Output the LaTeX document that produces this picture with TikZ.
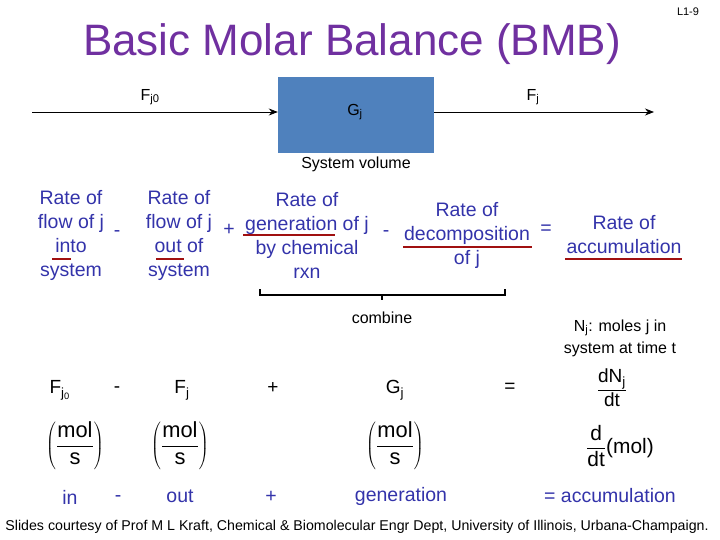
\documentclass[tikz,border=0pt]{standalone}
\usepackage{fontspec}
\setmainfont{Liberation Sans}
\usetikzlibrary{arrows.meta}
\definecolor{ttl}{RGB}{112,48,160}
\definecolor{bl}{RGB}{51,51,170}
\definecolor{boxc}{RGB}{79,129,189}
\definecolor{rd}{RGB}{160,16,16}
\begin{document}
\begin{tikzpicture}[x=1pt,y=-1pt,
  bt/.style={text=bl,font=\fontsize{19.5}{24}\selectfont,align=center,inner sep=0},
  kt/.style={text=black,font=\fontsize{16}{22}\selectfont,align=center,inner sep=0},
  eq/.style={text=black,font=\fontsize{19}{22}\selectfont,inner sep=0},
  ul/.style={rd,line width=2.2pt},
  flow/.style={-{Stealth[length=9pt,width=7pt]},line width=0.8pt}]
\useasboundingbox (0,0) rectangle (720,540);
\node[text=ttl,font=\fontsize{44}{46}\selectfont] (title) at (352,44) {Basic Molar Balance (BMB)};
\node[font=\fontsize{11}{12}\selectfont] (pg) at (688,12) {L1-9};
\node[fill=boxc,minimum width=156pt,minimum height=76pt,inner sep=0] (box) at (356,115) {};
\coordinate (in0) at (32,112);
\coordinate (out0) at (654,112);
\draw[flow] (in0) -- (box.west|-in0);
\draw[flow] (box.east|-out0) -- (out0);
\node[kt] (fj0) at (150,97) {F\textsubscript{j0}};
\node[kt] (fj) at (533,97) {F\textsubscript{j}};
\node[kt] (gj) at (355,112) {G\textsubscript{j}};
\node[kt] (sv) at (356,164) {System volume};
\node[bt] (c1) at (71,235) {Rate of\\flow of j\\into\\system};
\node[bt] (c2) at (179,235) {Rate of\\flow of j\\out of\\system};
\node[bt] (c3) at (307,235) {Rate of\\generation of j\\by chemical\\rxn};
\node[bt] (c4) at (467,235) {Rate of\\decomposition\\of j};
\node[bt] (c5) at (624,235) {Rate of\\accumulation};
\node[bt] (o1) at (117,234) {-};
\node[bt] (o2) at (229,230) {+};
\node[bt] (o3) at (386,234) {-};
\node[bt] (o4) at (546,230) {=};
\draw[ul] (52,259) -- (71,259);
\draw[ul] (156,259) -- (184,259);
\draw[ul] (243,235) -- (335,235);
\draw[ul] (403,247) -- (532,247);
\draw[ul] (565,259) -- (682,259);
\coordinate (bl) at (260,289); \coordinate (br) at (505,289);
\draw[line width=1.6pt] (bl) -- ++(0,6) -- (382,295) -- ++(0,5) (382,295) -- (505,295) -- (br);
\node[kt] (comb) at (382,318) {combine};
\node[kt] (nj) at (620,338) {N\textsubscript{j}: moles j in\\system at time t};
\node[eq] (e1) at (60,390) {F\textsubscript{j\textsubscript{0}}};
\node[eq] (e2) at (117,390) {-};
\node[eq] (e3) at (182,390) {F\textsubscript{j}};
\node[eq] (e4) at (273,388) {+};
\node[eq] (e5) at (395,390) {G\textsubscript{j}};
\node[eq] (e6) at (510,388) {=};
\node[eq] (e7) at (612,388) {$\displaystyle\frac{\mbox{dN\textsubscript{j}}}{\mbox{dt}}$};
\node[eq,scale=1.15] (u1) at (75,446) {$\displaystyle\left(\frac{\mbox{mol}}{\mbox{s}}\right)$};
\node[eq,scale=1.15] (u2) at (180,446) {$\displaystyle\left(\frac{\mbox{mol}}{\mbox{s}}\right)$};
\node[eq,scale=1.15] (u3) at (395,446) {$\displaystyle\left(\frac{\mbox{mol}}{\mbox{s}}\right)$};
\node[eq,scale=1.1] (u4) at (620,446) {$\displaystyle\frac{\mbox{d}}{\mbox{dt}}$\mbox{(mol)}};
\node[bt] (b1) at (70,497) {in};
\node[bt] (b2) at (118,499) {-};
\node[bt] (b3) at (180,496) {out};
\node[bt] (b4) at (271,497) {+};
\node[bt] (b5) at (401,496) {generation};
\node[bt] (b6) at (610,496) {= accumulation};
\node[font=\fontsize{14.2}{16}\selectfont] (foot) at (357,527) {Slides courtesy of Prof M L Kraft, Chemical \& Biomolecular Engr Dept, University of Illinois, Urbana-Champaign.};
\end{tikzpicture}
\end{document}
